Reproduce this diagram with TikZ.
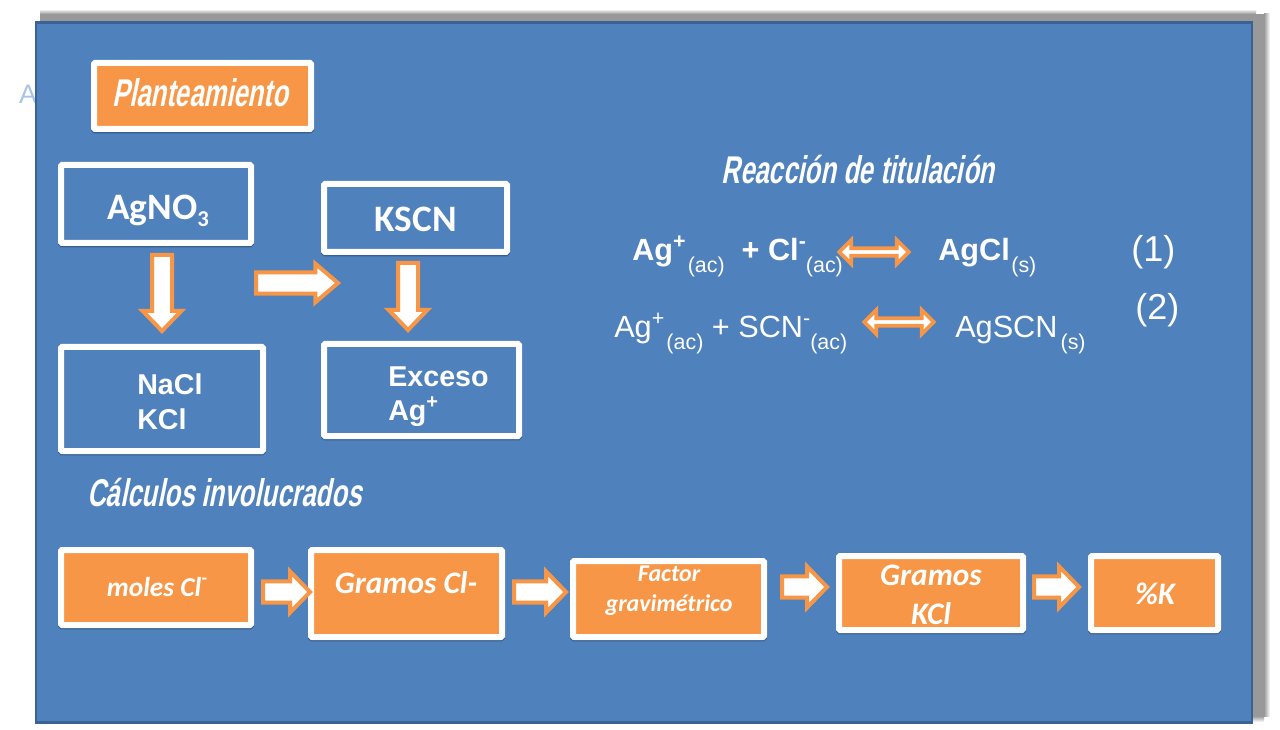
\documentclass[tikz,border=0pt]{standalone}
\usepackage{fontspec}
\usetikzlibrary{calc,shapes.arrows}
\setmainfont{Liberation Sans}
\newfontfamily\calfont{Carlito}
\newfontfamily\agency[FakeSlant=0.2,FakeStretch=0.665]{Liberation Sans Bold}
\definecolor{panelblue}{HTML}{4F81BD}
\definecolor{paneledge}{HTML}{3A6393}
\definecolor{boxorange}{HTML}{F79646}
\definecolor{boxshade}{HTML}{38608F}
\definecolor{strayblue}{HTML}{A9C4E4}
\tikzset{
  x=0.75pt,y=-0.75pt,
  boxbase/.style={rectangle,draw=white,line width=4.5pt,rounded corners=0.8pt,inner sep=0pt,
    preaction={draw=boxshade,line width=4.5pt,transform canvas={yshift=-1.1pt}}},
  bluebox/.style={boxbase,fill=panelblue},
  orangebox/.style={boxbase,fill=boxorange},
  txt/.style={text=white,inner sep=0pt,anchor=base,align=center},
  calb/.style={txt,font=\calfont\bfseries\fontsize{28}{32}\selectfont},
  arb/.style={txt,font=\bfseries\fontsize{21.5}{25.5}\selectfont,align=left},
  agencyt/.style={txt,font=\agency\fontsize{29}{34}\selectfont},
  ital/.style={txt,font=\calfont\itshape\bfseries\fontsize{#1}{#1}\selectfont},
  eqb/.style={txt,anchor=base west,font=\bfseries\fontsize{23}{27}\selectfont},
  eqn/.style={txt,anchor=base west,font=\fontsize{23}{27}\selectfont},
  eqnum/.style={txt,anchor=base west,font=\fontsize{27}{30}\selectfont},
  blockline/.style={draw=boxorange,fill=white,line width=3pt,line join=miter,miter limit=10},
  dblarrow/.style={shape=double arrow,draw=boxorange,fill=white,line width=2.8pt,inner sep=0pt,
    double arrow head extend=3.2pt,minimum height=52pt,minimum width=18pt,double arrow head indent=0pt},
}
% block arrow: start, end, half shaft, half head, head length (in pt)
\newcommand{\blockarrow}[5]{%
  \coordinate (neck) at ($(#2)!#5!(#1)$);
  \draw[blockline]
    ($(#1)!#3!90:(#2)$) -- ($(neck)!#3!90:(#2)$) -- ($(neck)!#4!90:(#2)$) -- (#2)
    -- ($(neck)!#4!-90:(#2)$) -- ($(neck)!#3!-90:(#2)$) -- ($(#1)!#3!-90:(#2)$) -- cycle;
}
\newcommand{\subx}[1]{\raisebox{-0.38em}{\mdseries\fontsize{0.7em}{1em}\selectfont #1}}
\newcommand{\supx}[1]{\raisebox{0.42em}{\fontsize{0.7em}{1em}\selectfont #1}}
\begin{document}
\begin{tikzpicture}
\useasboundingbox (0,0) rectangle (1280,730);
\fill[white] (0,0) rectangle (1280,730);
% stray letter behind the panel
\node[txt,text=strayblue,font=\fontsize{20}{20}\selectfont] (strayA) at (28,104) {A};
% soft panel shadow
\shade[top color=white,bottom color=black!40] (40,9) rectangle (1256,14);
\fill[black!40] (40,14) rectangle (1256,22);
\fill[black!40] (1253,14) rectangle (1264,716);
\shade[left color=black!40,right color=white] (1264,14) rectangle (1270,716);
\shade[top color=black!40,bottom color=white] (1253,716) rectangle (1264,722);
\node[fill=panelblue,draw=paneledge,line width=2.2pt,minimum width=1216*0.75pt,minimum height=700*0.75pt,
  inner sep=0pt,rectangle] (panel) at (644,372.5) {};

% boxes
\node[orangebox,minimum width=217*0.75pt,minimum height=66*0.75pt] (plan) at (202.5,96) {};
\node[bluebox,minimum width=190*0.75pt,minimum height=78*0.75pt] (agno) at (156,204) {};
\node[bluebox,minimum width=183*0.75pt,minimum height=68*0.75pt] (kscn) at (415.5,218) {};
\node[bluebox,minimum width=202*0.75pt,minimum height=104*0.75pt] (nacl) at (162,399) {};
\node[bluebox,minimum width=195*0.75pt,minimum height=92*0.75pt] (exceso) at (421.5,390) {};
\node[orangebox,minimum width=190*0.75pt,minimum height=75*0.75pt] (moles) at (156,587.5) {};
\node[orangebox,minimum width=191*0.75pt,minimum height=87*0.75pt] (gcl) at (406.5,593.5) {};
\node[orangebox,minimum width=191*0.75pt,minimum height=76*0.75pt] (factor) at (668.5,599) {};
\node[orangebox,minimum width=184*0.75pt,minimum height=74*0.75pt] (gkcl) at (931,593) {};
\node[orangebox,minimum width=127*0.75pt,minimum height=74*0.75pt] (pctk) at (1154.5,593) {};

% connector end points, tied to the boxes
\coordinate (a1) at ($(agno.south)+(6,9)$);
\coordinate (a2) at ($(nacl.north)+(0,-13)$);
\coordinate (b1) at ($(agno.east)+(2,79)$);
\coordinate (b2) at ($(kscn.west)+(17,65)$);
\coordinate (c1) at ($(kscn.south)+(-7.5,8)$);
\coordinate (c2) at ($(exceso.north)+(-13.5,-11)$);
\coordinate (d1) at ($(moles.east)+(9,4.5)$);
\coordinate (d2) at ($(gcl.west)+(2,-1.5)$);
\coordinate (e1) at ($(gcl.east)+(9,-1.5)$);
\coordinate (e2) at ($(factor.west)+(-4,-7)$);
\coordinate (f1) at ($(factor.east)+(15,-12)$);
\coordinate (f2) at ($(gkcl.west)+(-9,-6)$);
\coordinate (g1) at ($(gkcl.east)+(8,-6)$);
\coordinate (g2) at ($(pctk.west)+(-9,-6)$);

\blockarrow{a1}{a2}{7.5pt}{14.5pt}{15pt}
\blockarrow{b1}{b2}{8pt}{14.5pt}{17pt}
\blockarrow{c1}{c2}{7.5pt}{14.5pt}{15pt}
\blockarrow{d1}{d2}{8pt}{15.5pt}{15pt}
\blockarrow{e1}{e2}{8pt}{15.5pt}{15pt}
\blockarrow{f1}{f2}{8pt}{15.5pt}{15pt}
\blockarrow{g1}{g2}{8pt}{15.5pt}{15pt}

% titles
\node[agencyt] (tplan) at (200,107) {Planteamiento};
\node[agencyt] (treac) at (858,184) {Reacción de titulación};
\node[agencyt] (tcalc) at (224.5,506) {Cálculos involucrados};

% box texts
\node[calb] (lagno) at (158,220) {AgNO\raisebox{-0.18em}{\fontsize{17}{17}\selectfont 3}};
\node[calb] (lkscn) at (415.5,232) {KSCN};
\node[arb,anchor=base west] (lnacl) at (137,429) {NaCl\\KCl};
\node[arb,anchor=base west] (lexc) at (388,421) {Exceso\\Ag\supx{+}};

% reactions
\node[eqb] (r1a) at (632,261) {Ag\supx{+}\subx{\hspace{0.1em}(ac)}\hspace{0.55em}+ Cl\supx{-}\subx{(ac)}};
\node[eqb] (r1b) at (938,261) {AgCl\hspace{0.05em}\subx{(s)}};
\node[eqnum] (r1n) at (1131,262) {(1)};
\node[eqn] (r2a) at (614,338) {Ag\supx{+}\subx{\hspace{0.1em}(ac)} + SCN\supx{-}\subx{(ac)}};
\node[eqn] (r2b) at (955,338) {AgSCN\hspace{0.1em}\subx{(s)}};
\node[eqnum] (r2n) at (1135,320) {(2)};
\node[dblarrow] (dbl1) at (874,252) {};
\node[dblarrow] (dbl2) at (899,322) {};

% bottom labels
\node[ital=20.5] (lmoles) at (157,596) {moles Cl\supx{-}};
\node[ital=23.5] (lgcl) at (406,593) {Gramos Cl-};
\node[ital=18] (lfac1) at (669,581) {Factor};
\node[ital=18] (lfac2) at (669,611) {gravimétrico};
\node[ital=23.5] (lg1) at (931,585) {Gramos};
\node[ital=23.5] (lg2) at (931,624) {KCl};
\node[ital=23.5] (lk) at (1155,604) {\%K};
\end{tikzpicture}
\end{document}
